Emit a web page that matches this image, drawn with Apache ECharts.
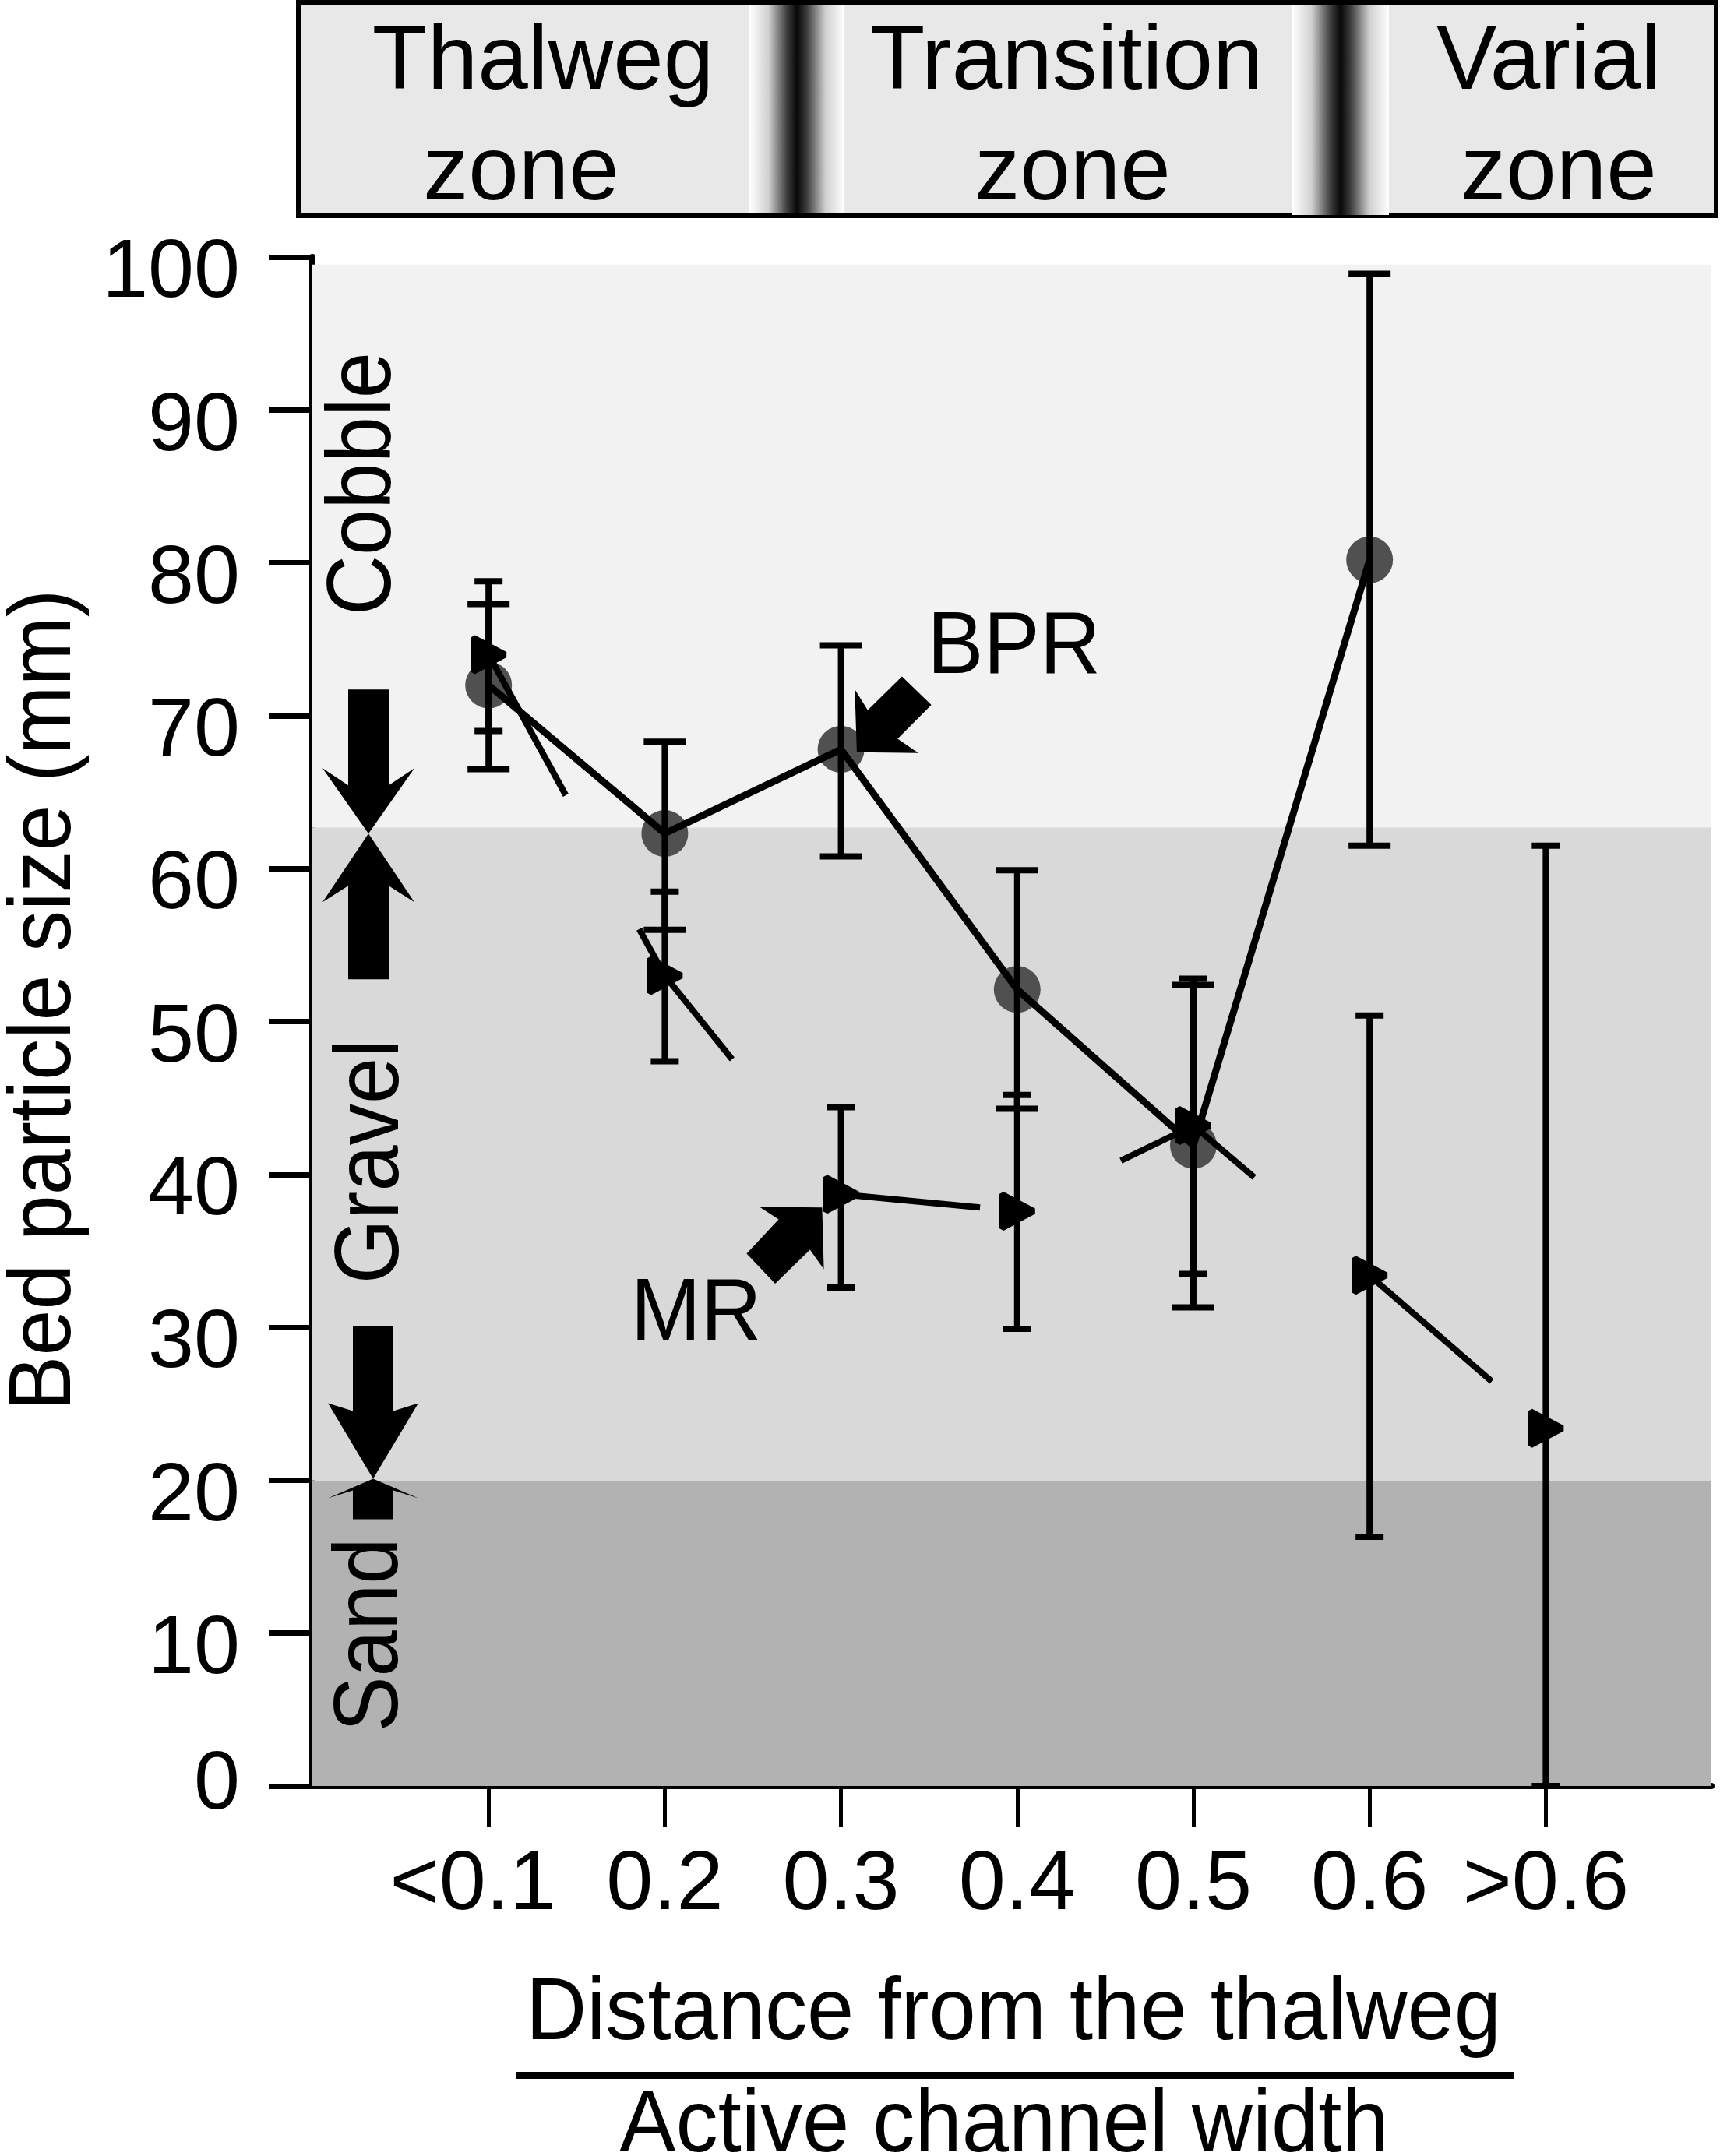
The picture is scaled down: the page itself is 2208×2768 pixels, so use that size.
<!DOCTYPE html>
<html><head><meta charset="utf-8">
<script src="https://cdn.jsdelivr.net/npm/echarts@6/dist/echarts.min.js"></script>
<style>html,body{margin:0;padding:0;background:#fff}#c{width:2208px;height:2768px}</style>
</head><body><div id="c"></div>
<script>
// ---- data ----
const categories = ['<0.1', '0.2', '0.3', '0.4', '0.5', '0.6', '>0.6'];
const bprMean = [72.0, 62.3, 67.8, 52.1, 41.9, 80.2];
const bprLow  = [66.5, 56.0, 60.8, 44.3, 31.3, 61.5];
const bprHigh = [77.3, 68.3, 74.6, 59.9, 52.4, 98.9];
const mrMean  = [74.0, 53.0, 38.7, 37.6, 43.2, 33.4, 23.4];
const mrLow   = [69.0, 47.4, 32.6, 29.9, 33.5, 16.3, 0];
const mrHigh  = [78.8, 58.5, 44.4, 45.2, 52.8, 50.4, 61.5];
const yTickValues = [0, 10, 20, 30, 40, 50, 60, 70, 80, 90, 100];
const bandEdges = [0, 20, 62.7, 99.5];
const bandNames = ['Sand', 'Gravel', 'Cobble'];
const zoneLabels = [['Thalweg', 'zone'], ['Transition', 'zone'], ['Varial', 'zone']];
const xTitleTop = 'Distance from the thalweg';
const xTitleBottom = 'Active channel width';
const yTitle = 'Bed particle size (mm)';

const FONT = "'Liberation Sans', Arial, Helvetica, sans-serif";
const catPos = categories.map((c, i) => i + 1);
const bandColors = ['#b2b2b2', '#d9d9d9', '#f2f2f2'];

const chart = echarts.init(document.getElementById('c'), null, {renderer: 'canvas'});

function errRender(capW) {
  return function (params, api) {
    const x = api.value(0), lo = api.value(1), hi = api.value(2);
    const a = api.coord([x, lo]), b = api.coord([x, hi]);
    const st = {stroke: '#000', lineWidth: 8};
    return {type: 'group', children: [
      {type: 'line', shape: {x1: a[0], y1: a[1], x2: b[0], y2: b[1]}, style: st},
      {type: 'line', shape: {x1: a[0] - capW / 2, y1: a[1], x2: a[0] + capW / 2, y2: a[1]}, style: st},
      {type: 'line', shape: {x1: b[0] - capW / 2, y1: b[1], x2: b[0] + capW / 2, y2: b[1]}, style: st}
    ]};
  };
}

const option = {
  backgroundColor: '#fff',
  animation: false,
  grid: {left: 401, top: 330, width: 1796, height: 1963},
  xAxis: {
    type: 'value', min: 0, max: 7.94, interval: 1,
    axisLine: {show: true, onZero: false, lineStyle: {color: '#000', width: 8}},
    axisTick: {show: true, customValues: catPos, length: 52, lineStyle: {color: '#000', width: 5}},
    axisLabel: {
      customValues: catPos, margin: 74, color: '#000', fontSize: 108, fontFamily: FONT,
      formatter: v => { const i = Math.round(v) - 1; return i === 0 ? '{f|' + categories[i] + '}' : categories[i]; },
      rich: {f: {fontSize: 108, fontFamily: FONT, color: '#000', padding: [0, 40, 0, 0]}}
    },
    splitLine: {show: false}
  },
  yAxis: {
    type: 'value', min: 0, max: 100, interval: 10,
    axisLine: {show: true, onZero: false, lineStyle: {color: '#000', width: 8}},
    axisTick: {show: true, length: 56, lineStyle: {color: '#000', width: 7}},
    axisLabel: {
      margin: 93, color: '#000', fontSize: 106, fontFamily: FONT,
      formatter: v => (yTickValues.indexOf(v) < 0 ? '' : (v === 0 ? '{z|0}' : '{n|' + v + '}')),
      rich: {
        z: {fontSize: 106, fontFamily: FONT, color: '#000'},
        n: {fontSize: 106, fontFamily: FONT, color: '#000', padding: [44, 0, 0, 0]}
      }
    },
    splitLine: {show: false}
  },
  series: [
    {
      name: 'bands', type: 'scatter', data: [], z: 0, silent: true,
      markArea: {
        silent: true,
        data: bandNames.map((n, i) => [
          {xAxis: 0, yAxis: bandEdges[i], itemStyle: {color: bandColors[i], opacity: 1}},
          {xAxis: 7.94, yAxis: bandEdges[i + 1]}
        ])
      }
    },
    {
      name: 'BPR points', type: 'scatter', z: 2, symbol: 'circle', symbolSize: 60,
      itemStyle: {color: '#505050', opacity: 1},
      data: bprMean.map((v, i) => [catPos[i], v])
    },
    {
      name: 'BPR line', type: 'line', z: 3, symbol: 'none',
      lineStyle: {color: '#000', width: 9},
      data: bprMean.map((v, i) => [catPos[i], v])
    },
    {
      name: 'MR line', type: 'line', z: 3, symbol: 'none',
      lineStyle: {color: '#000', width: 8, type: [206, 196]},
      data: mrMean.map((v, i) => [catPos[i], v])
    },
    {
      name: 'BPR error', type: 'custom', z: 4, renderItem: errRender(54),
      data: bprMean.map((v, i) => [catPos[i], bprLow[i], bprHigh[i]])
    },
    {
      name: 'MR error', type: 'custom', z: 4, renderItem: errRender(36),
      data: mrMean.map((v, i) => [catPos[i], mrLow[i], mrHigh[i]])
    },
    {
      name: 'MR points', type: 'scatter', z: 5,
      symbol: 'path://M0,0.6L1.2,0L10,4.3L10,5.7L1.2,10L0,9.4Z', symbolSize: [46, 50], symbolKeepAspect: false,
      itemStyle: {color: '#000', opacity: 1},
      data: mrMean.map((v, i) => [catPos[i], v])
    }
  ]
};
chart.setOption(option);

// ---- annotations (layout) ----
const px = (x, y) => chart.convertToPixel({gridIndex: 0}, [x, y]);
const T1 = px(0, bandEdges[2])[1] + 8;
const T2 = px(0, bandEdges[1])[1] - 2;
const P = px(3, bprMean[2]);
const Q = px(3, mrMean[2]);
const poly = (pts) => ({type: 'polygon', shape: {points: pts}, style: {fill: '#000'}, z: 20});
const txt = (text, x, y, size, opts) => Object.assign({
  type: 'text', x: x, y: y, z: 30,
  style: {text: text, fontSize: size, fontFamily: FONT, fill: '#000', align: 'center', verticalAlign: 'middle'}
}, opts || {});

const sepGrad = {type: 'linear', x: 0, y: 0, x2: 1, y2: 0, colorStops: [
  {offset: 0, color: '#ffffff'}, {offset: 0.2, color: '#d0d0d0'}, {offset: 0.4, color: '#3a3a3a'},
  {offset: 0.5, color: '#080808'}, {offset: 0.6, color: '#3a3a3a'}, {offset: 0.8, color: '#d0d0d0'},
  {offset: 1, color: '#ffffff'}]};

const graphics = [
  // header box
  {type: 'rect', shape: {x: 383, y: 3, width: 1820, height: 274}, style: {fill: '#e8e8e8', stroke: '#000', lineWidth: 6}, z: 10},
  {type: 'rect', shape: {x: 962, y: 6, width: 122, height: 268}, style: {fill: sepGrad}, z: 11},
  {type: 'rect', shape: {x: 1659, y: 6, width: 124, height: 270}, style: {fill: sepGrad}, z: 11},
  txt(zoneLabels[0][0], 697, 82, 116), txt(zoneLabels[0][1], 669, 224, 116),
  txt(zoneLabels[1][0], 1369, 82, 116), txt(zoneLabels[1][1], 1377, 224, 116),
  txt(zoneLabels[2][0], 1988, 82, 116), txt(zoneLabels[2][1], 2001, 224, 116),
  // y title
  txt(yTitle, 59, 1284, 114, {rotation: Math.PI / 2, scaleX: 0.93}),
  // band names
  txt(bandNames[2], 469, 621, 116, {rotation: Math.PI / 2, scaleX: 0.92}),
  txt(bandNames[1], 479, 1491, 116, {rotation: Math.PI / 2, scaleX: 0.92}),
  txt(bandNames[0], 478, 2099, 116, {rotation: Math.PI / 2, scaleX: 0.92}),
  // x title fraction
  txt(xTitleTop, 1301, 2587, 114, {scaleX: 0.95}),
  {type: 'rect', shape: {x: 662, y: 2660, width: 1282, height: 9}, style: {fill: '#000'}, z: 30},
  txt(xTitleBottom, 1289, 2731, 114, {scaleX: 0.95}),
  // boundary arrows, cobble/gravel
  poly([[447, T1 - 185], [499, T1 - 185], [499, T1 - 62], [532, T1 - 84], [473, T1], [414, T1 - 84], [447, T1 - 62]]),
  poly([[473, T1], [532, T1 + 88], [499, T1 + 67], [499, T1 + 187], [447, T1 + 187], [447, T1 + 67], [414, T1 + 88]]),
  // gravel/sand
  poly([[453, T2 - 196], [505, T2 - 196], [505, T2 - 87], [537, T2 - 97], [479, T2], [421, T2 - 97], [453, T2 - 87]]),
  poly([[479, T2], [537, T2 + 25], [505, T2 + 15], [505, T2 + 52], [453, T2 + 52], [453, T2 + 15], [421, T2 + 25]]),
  // BPR callout
  poly([[17.7, -77], [34.3, -50.3], [78.3, -93.7], [116, -57], [72.7, -13.7], [99.3, 4.7], [20.3, 3.7]].map(d => [P[0] + d[0], P[1] + d[1]])),
  txt('BPR', P[0] + 222, P[1] - 130, 114, {scaleX: 0.95}),
  // MR callout
  poly([[-24.2, 17], [-104.6, 16.3], [-80, 32.3], [-121.1, 76.3], [-84.5, 114.7], [-39.8, 71.3], [-22, 96.3]].map(d => [Q[0] + d[0], Q[1] + d[1]])),
  txt('MR', Q[0] - 186, Q[1] + 155, 114, {scaleX: 0.95})
];
chart.setOption({graphic: graphics});
</script>
</body></html>
